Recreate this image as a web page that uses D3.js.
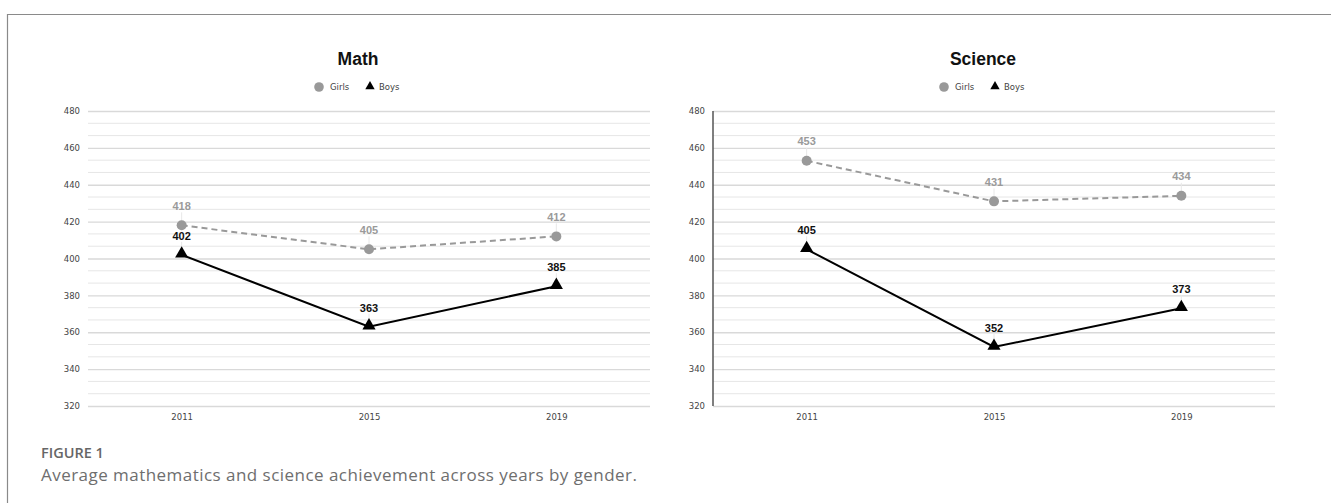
<!DOCTYPE html>
<html>
<head>
<meta charset="utf-8">
<script src="https://cdn.jsdelivr.net/npm/d3@7"></script>
<style>
  body { margin: 0; background: #fff; }
  svg { display: block; }
</style>
</head>
<body>
<svg id="fig" width="1331" height="503"></svg>
<script>
// Achievement scores by year and gender
const years = ["2011", "2015", "2019"];
const mathGirls = [418, 405, 412];
const mathBoys = [402, 363, 385];
const scienceGirls = [453, 431, 434];
const scienceBoys = [405, 352, 373];
const yTicks = [320, 340, 360, 380, 400, 420, 440, 460, 480];
const seriesNames = ["Girls", "Boys"];

const svg = d3.select("#fig");

// Outer frame (top and left edges)
svg.append("path")
  .attr("d", "M7.5,503 V14.5 H1331")
  .attr("fill", "none")
  .attr("stroke", "#8a8a8a")
  .attr("stroke-width", 1.2);

const panels = [
  { title: "Math", girls: mathGirls, boys: mathBoys, x0: 88, axisLine: false },
  { title: "Science", girls: scienceGirls, boys: scienceBoys, x0: 713, axisLine: true }
];

const plotW = 562, plotTop = 111, plotBottom = 406;

panels.forEach(p => {
  const g = svg.append("g");
  const x = d3.scalePoint().domain(years).range([p.x0, p.x0 + plotW]).padding(0.5);
  const y = d3.scaleLinear().domain([320, 480]).range([plotBottom, plotTop]);
  const hc = p.x0 + plotW / 2 - 11;   // header centre

  // Title
  g.append("text")
    .attr("x", hc).attr("y", 65)
    .attr("text-anchor", "middle")
    .attr("font-family", "Liberation Sans, Arial, sans-serif")
    .attr("font-weight", "bold")
    .attr("font-size", 17.5)
    .attr("fill", "#111")
    .text(p.title);

  // Legend
  const lg = g.append("g").attr("transform", `translate(${hc - 44},87)`);
  lg.append("circle").attr("cx", 5).attr("cy", 0).attr("r", 4.8).attr("fill", "#999");
  lg.append("text").attr("x", 16).attr("y", 3)
    .attr("font-family", "DejaVu Sans, sans-serif").attr("font-size", 8.5).attr("fill", "#444")
    .text(seriesNames[0]);
  lg.append("path").attr("d", d3.symbol(d3.symbolTriangle, 38)()).attr("transform", "translate(56,-0.5)").attr("fill", "#000");
  lg.append("text").attr("x", 65).attr("y", 3)
    .attr("font-family", "DejaVu Sans, sans-serif").attr("font-size", 8.5).attr("fill", "#444")
    .text(seriesNames[1]);

  // Grid: major lines every 20, minor lines every 20/3
  const minor = [];
  for (let i = 0; i < yTicks.length - 1; i++) {
    const a = yTicks[i], b = yTicks[i + 1];
    minor.push(a + (b - a) / 3, a + 2 * (b - a) / 3);
  }
  g.append("g").selectAll("line").data(minor).join("line")
    .attr("x1", p.x0).attr("x2", p.x0 + plotW)
    .attr("y1", d => y(d)).attr("y2", d => y(d))
    .attr("stroke", "#e6e6e6").attr("stroke-width", 1);

  const yAxis = d3.axisLeft(y).tickValues(yTicks).tickSize(-plotW).tickPadding(8);
  const ya = g.append("g").attr("transform", `translate(${p.x0},0)`).call(yAxis);
  ya.select(".domain").remove();
  ya.selectAll(".tick line").attr("stroke", "#d9d9d9").attr("stroke-width", 1.3);
  ya.selectAll(".tick text")
    .attr("font-family", "DejaVu Sans, sans-serif").attr("font-size", 8.5).attr("fill", "#444");

  if (p.axisLine) {
    g.append("line").attr("x1", p.x0).attr("x2", p.x0).attr("y1", plotTop).attr("y2", plotBottom)
      .attr("stroke", "#555").attr("stroke-width", 1.5);
  }

  const xAxis = d3.axisBottom(x).tickSize(0).tickPadding(8);
  const xa = g.append("g").attr("transform", `translate(0,${plotBottom})`).call(xAxis);
  xa.select(".domain").remove();
  xa.selectAll(".tick text")
    .attr("font-family", "DejaVu Sans, sans-serif").attr("font-size", 8.5).attr("fill", "#444");

  const line = d3.line().x((d, i) => x(years[i])).y(d => y(d));

  // Leader lines from labels to points
  [p.girls, p.boys].forEach(vals => {
    g.append("g").selectAll("line").data(vals).join("line")
      .attr("x1", (d, i) => x(years[i])).attr("x2", (d, i) => x(years[i]))
      .attr("y1", d => y(d) - 13).attr("y2", d => y(d))
      .attr("stroke", "#e8e8e8").attr("stroke-width", 1);
  });

  // Girls series
  g.append("path").datum(p.girls).attr("d", line)
    .attr("fill", "none").attr("stroke", "#999").attr("stroke-width", 2)
    .attr("stroke-dasharray", "6,4");
  g.append("g").selectAll("circle").data(p.girls).join("circle")
    .attr("cx", (d, i) => x(years[i])).attr("cy", d => y(d)).attr("r", 5)
    .attr("fill", "#999");
  g.append("g").selectAll("text").data(p.girls).join("text")
    .attr("x", (d, i) => x(years[i])).attr("y", d => y(d) - 15.5)
    .attr("text-anchor", "middle")
    .attr("font-family", "Liberation Sans, Arial, sans-serif").attr("font-size", 11)
    .attr("font-weight", "bold")
    .attr("fill", "#9a9a9a")
    .text(d => d);

  // Boys series
  g.append("path").datum(p.boys).attr("d", line)
    .attr("fill", "none").attr("stroke", "#000").attr("stroke-width", 2);
  g.append("g").selectAll("path").data(p.boys).join("path")
    .attr("d", d3.symbol(d3.symbolTriangle, 75)())
    .attr("transform", (d, i) => `translate(${x(years[i])},${y(d) - 1})`)
    .attr("fill", "#000");
  g.append("g").selectAll("text").data(p.boys).join("text")
    .attr("x", (d, i) => x(years[i])).attr("y", d => y(d) - 15)
    .attr("text-anchor", "middle")
    .attr("font-family", "Liberation Sans, Arial, sans-serif").attr("font-size", 11)
    .attr("font-weight", "bold")
    .attr("fill", "#111")
    .text(d => d);
});

// Caption
svg.append("text").attr("x", 41).attr("y", 458)
  .attr("font-family", "Open Sans, sans-serif").attr("font-size", 14.5)
  .attr("font-weight", 600).attr("fill", "#666")
  .text("FIGURE 1");
svg.append("text").attr("x", 41).attr("y", 481)
  .attr("font-family", "Open Sans, sans-serif").attr("font-size", 17)
  .attr("fill", "#6e6e6e")
  .attr("textLength", 596)
  .text("Average mathematics and science achievement across years by gender.");
</script>
</body>
</html>
